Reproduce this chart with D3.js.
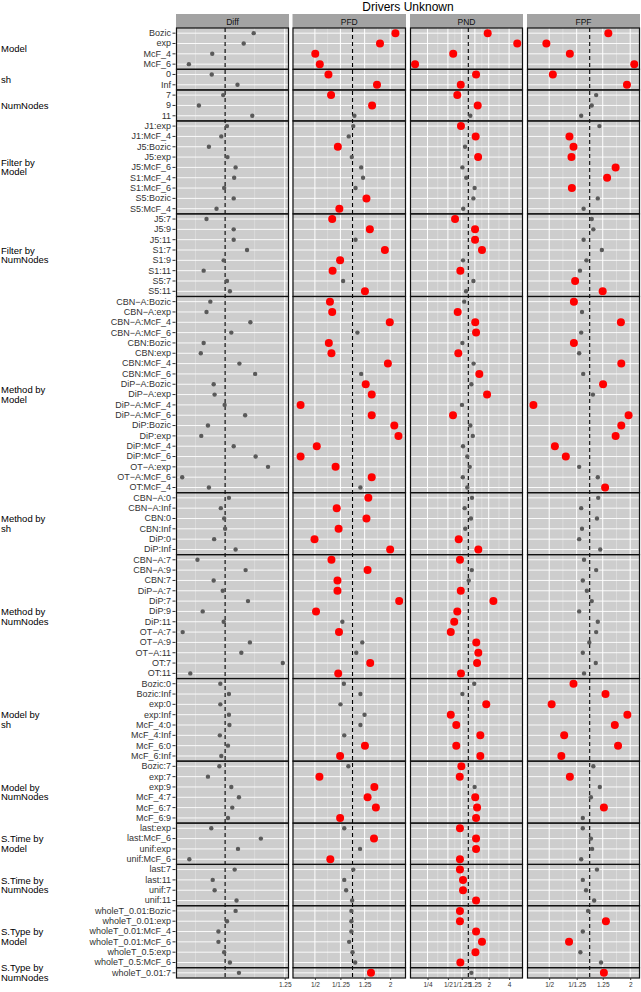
<!DOCTYPE html>
<html><head><meta charset="utf-8">
<script src="https://cdn.jsdelivr.net/npm/d3@7"></script>
<style>body{margin:0;background:#fff} svg{display:block} text{font-family:"Liberation Sans",Arial,Helvetica,sans-serif}</style>
</head><body>
<svg id="c" width="641" height="992"></svg>
<script>
// ---------- DATA ----------
const groupNames = ["Model","sh","NumNodes","Filter by\nModel","Filter by\nNumNodes","Method by\nModel","Method by\nsh","Method by\nNumNodes","Model by\nsh","Model by\nNumNodes","S.Time by\nModel","S.Time by\nNumNodes","S.Type by\nModel","S.Type by\nNumNodes"];
const groupSizes = [4,2,3,9,8,19,6,12,8,6,4,4,6,1];
const terms = [
 "Bozic","exp","McF_4","McF_6",
 "0","Inf",
 "7","9","11",
 "J1:exp","J1:McF_4","J5:Bozic","J5:exp","J5:McF_6","S1:McF_4","S1:McF_6","S5:Bozic","S5:McF_4",
 "J5:7","J5:9","J5:11","S1:7","S1:9","S1:11","S5:7","S5:11",
 "CBN\u2212A:Bozic","CBN\u2212A:exp","CBN\u2212A:McF_4","CBN\u2212A:McF_6","CBN:Bozic","CBN:exp","CBN:McF_4","CBN:McF_6","DiP\u2212A:Bozic","DiP\u2212A:exp","DiP\u2212A:McF_4","DiP\u2212A:McF_6","DiP:Bozic","DiP:exp","DiP:McF_4","DiP:McF_6","OT\u2212A:exp","OT\u2212A:McF_6","OT:McF_4",
 "CBN\u2212A:0","CBN\u2212A:Inf","CBN:0","CBN:Inf","DiP:0","DiP:Inf",
 "CBN\u2212A:7","CBN\u2212A:9","CBN:7","DiP\u2212A:7","DiP:7","DiP:9","DiP:11","OT\u2212A:7","OT\u2212A:9","OT\u2212A:11","OT:7","OT:11",
 "Bozic:0","Bozic:Inf","exp:0","exp:Inf","McF_4:0","McF_4:Inf","McF_6:0","McF_6:Inf",
 "Bozic:7","exp:7","exp:9","McF_4:7","McF_6:7","McF_6:9",
 "last:exp","last:McF_6","unif:exp","unif:McF_6",
 "last:7","last:11","unif:7","unif:11",
 "wholeT_0.01:Bozic","wholeT_0.01:exp","wholeT_0.01:McF_4","wholeT_0.01:McF_6","wholeT_0.5:exp","wholeT_0.5:McF_6",
 "wholeT_0.01:7"
];
const panelNames = ["Diff","PFD","PND","FPF"];
// Diff: raw difference; PFD/PND/FPF: log2 of ratio
const diffVals = [0.60,0.39,-0.27,-0.76,
 -0.28,0.26,
 -0.04,-0.55,0.57,
 0.04,-0.08,-0.34,0.05,0.22,0.19,-0.02,0.18,-0.18,
 -0.39,0.18,0.18,0.46,-0.03,-0.45,0.04,0.10,
 -0.31,-0.39,0.53,0.13,-0.45,-0.51,0.30,0.63,-0.24,-0.22,-0.01,0.42,-0.36,-0.50,0.18,0.64,0.90,-0.90,-0.34,
 0.08,-0.09,-0.02,0.00,-0.23,0.22,
 -0.58,0.43,-0.24,-0.05,0.48,-0.47,-0.03,-0.89,0.52,0.34,1.21,-0.73,
 -0.10,0.08,-0.10,0.08,0.09,-0.11,0.06,-0.08,
 -0.12,-0.36,0.13,0.29,0.15,0.06,
 -0.29,0.75,0.27,-0.75,
 0.20,-0.26,-0.22,0.24,
 0.22,0.04,-0.14,-0.14,-0.02,0.10,
 0.29];
const pfdVals = [1.14,0.73,-0.99,-0.87,
 -0.64,0.65,
 -0.57,0.52,0.05,
 0.02,-0.10,-0.39,-0.02,0.23,0.28,0.08,0.37,-0.35,
 -0.54,0.46,0.08,0.86,-0.33,-0.53,-0.25,0.33,
 -0.60,-0.54,0.99,0.13,-0.63,-0.56,0.94,0.23,0.35,0.51,-1.38,0.51,1.11,1.22,-0.95,-1.38,-0.45,0.51,0.21,
 0.42,-0.42,0.37,-0.37,-1.01,1.00,
 -0.56,0.40,-0.40,-0.40,1.24,-0.97,-0.27,-0.36,0.26,0.10,0.47,-0.38,
 -0.23,0.21,-0.32,0.32,0.21,-0.22,0.33,-0.33,
 -0.11,-0.88,0.58,0.40,0.62,-0.33,
 -0.22,0.57,0.20,-0.59,
 0.02,-0.22,-0.17,-0.01,
 -0.03,-0.03,-0.03,-0.09,0.00,0.07,
 0.49];
const pfdSig = [1,1,1,1, 1,1, 1,1,0, 0,0,1,0,0,0,0,1,1, 1,1,0,1,1,1,0,1,
 1,1,1,0,1,1,1,0,1,1,1,1,1,1,1,1,1,1,0,
 1,1,1,1,1,1,
 1,1,1,1,1,1,0,1,0,0,1,1,
 0,0,0,0,0,0,1,1,
 0,1,1,1,1,1,
 0,1,0,1,
 0,0,0,0,
 0,0,0,0,0,0,
 1];
const pndVals = [0.95,2.40,-0.74,-2.61,
 0.38,-0.37,
 -0.54,0.46,0.10,
 -0.36,0.36,-0.16,0.48,-0.29,-0.10,0.31,0.25,-0.25,
 -0.65,0.33,0.33,0.67,-0.26,-0.39,0.25,-0.11,
 -0.20,-0.52,0.34,0.38,-0.29,-0.49,0.26,0.54,0.15,0.92,-0.31,-0.75,0.10,0.22,-0.26,-0.05,0.07,-0.27,-0.05,
 0.18,-0.18,0.13,-0.15,-0.47,0.49,
 -0.41,0.17,0.02,-0.37,1.23,-0.54,-0.69,-0.86,0.39,0.49,0.43,-0.36,
 0.29,-0.29,0.88,-0.86,-0.59,0.59,-0.59,0.59,
 -0.34,-0.42,0.31,0.34,0.43,0.38,
 -0.41,0.38,0.38,-0.41,
 -0.41,-0.26,-0.26,0.38,
 -0.41,-0.41,0.38,0.67,0.35,-0.39,
 0.15];
const pndSig = [1,1,1,1, 1,1, 1,1,0, 1,1,0,1,0,0,0,0,0, 1,1,1,1,0,1,0,0,
 0,1,1,1,0,1,0,1,0,1,0,1,0,0,0,0,0,0,0,
 0,0,0,0,1,1,
 1,0,0,1,1,1,1,1,1,1,1,1,
 0,0,1,1,1,1,1,1,
 1,1,0,1,1,1,
 1,1,1,1,
 1,1,1,1,
 1,1,1,1,1,1,
 0];
const fpfVals = [0.46,-1.07,-0.49,1.10,
 -0.91,0.92,
 0.16,0.05,-0.21,
 0.24,-0.50,-0.40,-0.45,0.64,0.43,-0.44,0.20,-0.15,
 0.05,0.09,-0.15,0.30,-0.08,-0.24,-0.36,0.32,
 -0.39,-0.19,0.77,-0.21,-0.39,-0.26,0.78,-0.16,0.33,0.08,-1.39,0.96,0.78,0.64,-0.86,-0.59,-0.26,0.20,0.38,
 0.21,-0.21,0.18,-0.19,-0.26,0.26,
 -0.14,0.16,-0.17,-0.07,0.05,-0.26,0.20,0.16,-0.01,-0.17,0.15,-0.14,
 -0.40,0.39,-0.94,0.93,0.62,-0.63,0.70,-0.70,
 0.09,-0.49,0.25,0.03,0.35,-0.17,
 -0.17,0.03,0.06,-0.21,
 0.18,-0.17,-0.09,0.11,
 -0.04,0.40,-0.17,-0.51,-0.23,0.28,
 0.35];
const fpfSig = [1,1,1,1, 1,1, 0,0,0, 0,1,1,1,1,1,1,0,0, 0,0,0,0,0,0,1,1,
 1,0,1,0,1,0,1,0,1,0,1,1,1,1,1,1,0,0,1,
 0,0,0,0,0,0,
 0,0,0,0,0,0,0,0,0,0,0,0,
 1,1,1,1,1,1,1,1,
 0,1,0,0,1,0,
 0,0,0,0,
 0,0,0,0,
 0,1,0,1,0,0,
 1];
const diffTicks = [1.25], diffTickLabels = ["1.25"];
const ratioTicks = [-1, Math.log2(0.8), Math.log2(1.25), 1], ratioTickLabels = ["1/2","1/1.25","1.25","2"];
const pndTicks = [-2,-1, Math.log2(0.8), Math.log2(1.25), 1, 2], pndTickLabels = ["1/4","1/2","1/1.25","1.25","2","4"];

// ---------- LAYOUT ----------
const svg = d3.select("#c");
const plotTop = 28, plotBottom = 978;
const y = d3.scaleBand().domain(d3.range(terms.length)).range([plotTop, plotBottom]);
const panels = [
 {name:"Diff", vals:diffVals, sig:null, range:[176,289], dom:[-1.03,1.34], ref:0, ticks:diffTicks, labels:diffTickLabels},
 {name:"PFD", vals:pfdVals, sig:pfdSig, range:[292.5,406], dom:[-1.595,1.421], ref:0, ticks:ratioTicks, labels:ratioTickLabels},
 {name:"PND", vals:pndVals, sig:pndSig, range:[410,523], dom:[-2.858,2.681], ref:0, ticks:pndTicks, labels:pndTickLabels},
 {name:"FPF", vals:fpfVals, sig:fpfSig, range:[527,640], dom:[-1.548,1.242], ref:0, ticks:ratioTicks, labels:ratioTickLabels}
];
// group boundaries
const starts = []; let acc = 0;
groupSizes.forEach(s => { starts.push(acc); acc += s; });

// title
svg.append("text").attr("x",408).attr("y",11).attr("text-anchor","middle")
  .attr("font-size",12).attr("fill","#000").text("Drivers Unknown");

panels.forEach(p => {
  const x = d3.scaleLinear().domain(p.dom).range(p.range);
  p.x = x;
  const g = svg.append("g");
  // strip
  g.append("rect").attr("x",p.range[0]).attr("y",14).attr("width",p.range[1]-p.range[0]).attr("height",14)
    .attr("fill","#a3a3a3");
  g.append("text").attr("x",(p.range[0]+p.range[1])/2).attr("y",24.5).attr("text-anchor","middle")
    .attr("font-size",8.5).attr("fill","#111").text(p.name);
  // background
  g.append("rect").attr("x",p.range[0]).attr("y",plotTop).attr("width",p.range[1]-p.range[0]).attr("height",plotBottom-plotTop)
    .attr("fill","#cdcdcd");
  // minor vertical grid
  let minor = [];
  const tk = p.ticks;
  if (p.name !== "Diff") {
    const all = tk.slice().sort((a,b)=>a-b);
    for (let i=0;i<all.length-1;i++) minor.push((all[i]+all[i+1])/2);
  } else {
    minor = [-0.62, 0.62];
  }
  g.selectAll(".vmin").data(minor).enter().append("line")
    .attr("x1",d=>x(d)).attr("x2",d=>x(d)).attr("y1",plotTop).attr("y2",plotBottom)
    .attr("stroke","#e8e8e8").attr("stroke-width",0.5);
  // major vertical grid
  g.selectAll(".vmaj").data(tk.filter(d=>x(d)>=p.range[0] && x(d)<=p.range[1])).enter().append("line")
    .attr("x1",d=>x(d)).attr("x2",d=>x(d)).attr("y1",plotTop).attr("y2",plotBottom)
    .attr("stroke","#ffffff").attr("stroke-width",1);
  // horizontal grid
  g.selectAll(".hg").data(d3.range(terms.length)).enter().append("line")
    .attr("x1",p.range[0]).attr("x2",p.range[1])
    .attr("y1",d=>y(d)+y.bandwidth()/2).attr("y2",d=>y(d)+y.bandwidth()/2)
    .attr("stroke","#ffffff").attr("stroke-width",0.9);
  // reference dashed line
  g.append("line").attr("x1",x(p.ref)).attr("x2",x(p.ref)).attr("y1",plotTop).attr("y2",plotBottom)
    .attr("stroke","#000").attr("stroke-width",1.1).attr("stroke-dasharray","4,3");
  // points
  const pts = p.vals.map((v,i)=>({v, i, s: p.sig ? p.sig[i] : 0}));
  g.selectAll(".pt").data(pts.filter(d=>!d.s)).enter().append("circle")
    .attr("cx",d=>x(d.v)).attr("cy",d=>y(d.i)+y.bandwidth()/2).attr("r",2.2).attr("fill","#5a5a5a");
  g.selectAll(".pr").data(pts.filter(d=>d.s)).enter().append("circle")
    .attr("cx",d=>x(d.v)).attr("cy",d=>y(d.i)+y.bandwidth()/2).attr("r",4).attr("fill","#ff0000");
  // facet borders
  groupSizes.forEach((s,k) => {
    const y0 = y(starts[k]), y1 = y(starts[k]+s-1)+y.bandwidth();
    g.append("rect").attr("x",p.range[0]+0.5).attr("y",y0).attr("width",p.range[1]-p.range[0]-1).attr("height",y1-y0)
      .attr("fill","none").attr("stroke","#111").attr("stroke-width",1.2);
  });
  // x axis
  const ax = d3.axisBottom(x).tickValues(p.ticks).tickFormat((d,i)=>p.labels[i]).tickSize(2).tickPadding(2);
  const axg = svg.append("g").attr("transform",`translate(0,${plotBottom})`).call(ax);
  axg.select(".domain").remove();
  axg.selectAll("text").attr("font-size",6.5).attr("fill","#333").attr("font-family","Liberation Sans, Arial, sans-serif");
  axg.selectAll("line").attr("stroke","#333");
});

// y axis
const yAx = d3.axisLeft(y).tickFormat(i=>terms[i]).tickSize(3).tickPadding(1.5);
const yg = svg.append("g").attr("transform","translate(175.5,0)").call(yAx);
yg.select(".domain").remove();
yg.selectAll("text").attr("font-size",9).attr("fill","#333").attr("font-family","Liberation Sans, Arial, sans-serif");
yg.selectAll("line").attr("stroke","#333");

// group labels
groupNames.forEach((name,k) => {
  const y0 = y(starts[k]), y1 = y(starts[k]+groupSizes[k]-1)+y.bandwidth();
  const lines = name.split("\n");
  const cy = (y0+y1)/2;
  const t = svg.append("text").attr("x",1).attr("font-size",9.5).attr("fill","#000");
  lines.forEach((ln,j) => {
    t.append("tspan").attr("x",1).attr("y", cy + 3.3 + (j-(lines.length-1)/2)*9.5).text(ln);
  });
});
</script>
</body></html>
